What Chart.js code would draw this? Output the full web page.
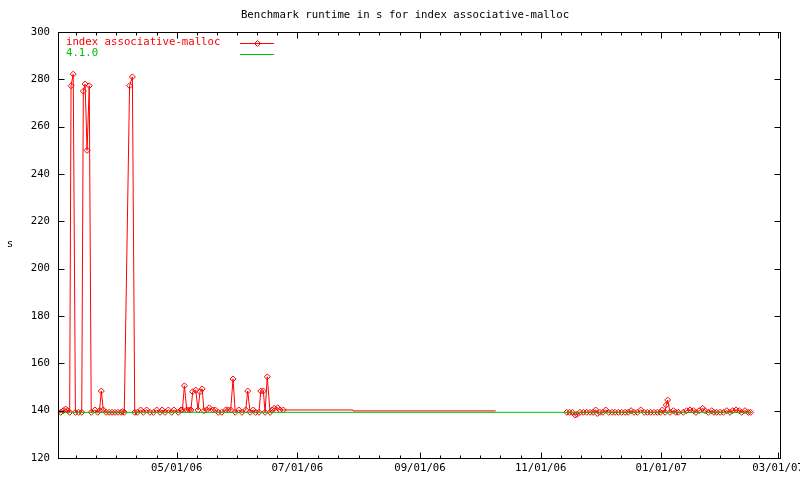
<!DOCTYPE html>
<html>
<head>
<meta charset="utf-8">
<title>Benchmark runtime in s for index associative-malloc</title>
<script src="https://cdn.jsdelivr.net/npm/chart.js@4.4.1/dist/chart.umd.min.js"></script>
<style>
  html, body { margin: 0; padding: 0; background: #fff; }
  #wrap { width: 800px; height: 480px; }
</style>
</head>
<body>
<div id="wrap"><canvas id="mychart" width="800" height="480"></canvas></div>
<script>
// x values are days counted from 03/01/06
const tickDays=[0,61,122,184,245,306,365];
const tickLabels=['03/01/06','05/01/06','07/01/06','09/01/06','11/01/06','01/01/07','03/01/07'];
const yTicks=[120,140,160,180,200,220,240,260,280,300];

const chartTitle='Benchmark runtime in s for index associative-malloc';
const seriesNames=['index associative-malloc','4.1.0'];

// index associative-malloc, null marks the hole in the runs
const mallocDays=[2.4,3.7,4.9,5.9,6.9,7.6,8.7,9.8,11.4,13.0,
  13.8,14.7,15.7,16.8,17.8,19.7,21.1,22.0,22.9,23.9,
  25.3,26.8,28.3,29.8,31.3,32.9,33.6,34.5,37.2,38.6,
  39.8,41.1,42.8,44.1,45.8,47.5,49.2,50.9,52.6,53.6,
  55.1,56.8,58.5,59.6,61.8,63.2,63.9,64.9,66.1,67.4,
  68.2,69.1,70.6,71.8,72.8,73.9,74.8,76.2,77.5,79.2,
  80.5,82.0,83.8,85.8,87.1,88.3,89.5,90.6,92.4,94.0,
  95.9,96.9,98.1,99.7,100.9,102.6,103.5,104.8,105.7,106.8,
  108.2,109.3,110.3,112.1,113.2,114.9,
  240,
  258.2,259.6,261.1,262.4,263.4,264.9,266.6,268.3,270.0,271.5,
  272.8,273.6,275.0,276.5,277.9,279.4,281.1,282.6,284.3,286.0,
  287.7,289.2,290.7,292.2,293.9,295.6,297.3,299.0,300.6,302.3,
  304.0,305.5,306.5,307.9,308.5,309.2,310.4,312.1,313.4,314.6,
  317.1,318.8,320.5,322.2,323.5,325.2,326.9,328.1,329.8,331.5,
  332.6,334.0,335.7,337.4,339.1,340.7,342.1,343.8,345.4,346.6,
  348.3,350.0,351.1];
const mallocRuntime=[139.3,140.0,140.7,140.0,139.3,277.3,282.2,139.3,139.3,139.3,
  275.0,278.0,250.0,277.3,139.3,140.3,139.3,140.0,148.3,140.3,
  139.3,139.3,139.3,139.3,139.3,139.3,139.6,139.3,277.3,281.0,
  139.3,139.3,140.3,139.3,140.3,139.3,139.3,140.3,139.3,140.3,
  139.3,140.3,139.3,140.3,139.3,140.3,140.3,150.5,140.3,140.3,
  140.3,148.0,148.7,140.3,148.0,149.2,140.0,140.3,141.2,140.3,
  140.3,139.3,139.3,140.3,140.3,140.3,153.4,139.3,140.3,139.3,
  140.3,148.3,139.3,140.3,139.3,139.3,148.3,148.3,139.3,154.3,
  139.3,140.3,141.0,141.2,140.3,140.3,
  null,
  139.3,139.3,139.3,138.2,138.4,139.3,139.3,139.3,139.3,139.3,
  140.3,138.8,139.3,139.3,140.3,139.3,139.3,139.3,139.3,139.3,
  139.3,139.3,140.0,139.3,139.3,140.3,139.3,139.3,139.3,139.3,
  139.3,139.3,140.3,139.3,142.4,144.5,139.3,140.0,139.3,139.3,
  139.3,140.0,140.3,140.0,139.3,140.0,141.0,140.0,139.3,140.0,
  139.3,139.3,139.3,139.3,140.0,139.3,140.0,140.3,140.0,139.3,
  140.0,139.3,139.3];
// stretch of the same series drawn without point marks
const flatDays=[114.9,150.1,150.2,222.3];
const flatRuntime=[140.3,140.3,139.9,139.9];
// 4.1.0 reference
const baseDays=[1,351];
const baseRuntime=[139.3,139.3];

const RED='#ff0000', GREEN='#00c000';
const FONT="'DejaVu Sans Mono', 'Liberation Mono', monospace";

const toXY=(xs,ys)=>xs.map((x,i)=>({x:x,y:ys[i]}));

Chart.defaults.font.family=FONT;
Chart.defaults.font.size=10.7;
Chart.defaults.color='#000';

// gnuplot style frame, inward ticks, title, legend
const gnuplotFrame={
  id:'gnuplotFrame',
  afterDatasetsDraw(chart){
    const {ctx,chartArea:a,scales:{x,y}}=chart;
    const L=Math.round(a.left)+0.5, R=Math.round(a.right)+0.5;
    const T=Math.round(a.top)+0.5, B=Math.round(a.bottom)+0.5;
    ctx.save();
    ctx.strokeStyle='#000';
    ctx.lineWidth=1;
    ctx.beginPath();
    yTicks.forEach(v=>{
      const py=Math.round(y.getPixelForValue(v))+0.5;
      ctx.moveTo(L,py); ctx.lineTo(L+6,py);
      ctx.moveTo(R,py); ctx.lineTo(R-6,py);
    });
    const mark=(d,len)=>{
      if(d<x.min||d>x.max) return;
      const px=Math.round(x.getPixelForValue(d))+0.5;
      ctx.moveTo(px,B); ctx.lineTo(px,B-len);
      ctx.moveTo(px,T); ctx.lineTo(px,T+len);
    };
    for(let i=0;i<tickDays.length;i++){
      mark(tickDays[i],6);
      if(i<tickDays.length-1){
        const step=(tickDays[i+1]-tickDays[i])/6;
        for(let k=1;k<6;k++) mark(tickDays[i]+k*step,3);
      }
    }
    ctx.stroke();
    ctx.strokeRect(L,T,R-L,B-T);

    ctx.font='10.7px '+FONT;
    ctx.textBaseline='middle';
    ctx.fillStyle='#000';
    ctx.textAlign='center';
    ctx.fillText(chartTitle,405,15);
    ctx.fillText('s',10,244);

    // legend: text on the left, line sample on the right
    ctx.textAlign='left';
    const lx=a.left+8, sx0=a.left+182, sx1=a.left+216;
    const legendRow=(txt,col,ly,withPoint)=>{
      const yy=Math.round(ly)+0.5;
      ctx.fillStyle=col;
      ctx.fillText(txt,lx,ly);
      ctx.beginPath();
      ctx.moveTo(sx0,yy);
      ctx.lineTo(sx1,yy);
      ctx.lineWidth=1;
      ctx.strokeStyle=col;
      ctx.stroke();
      if(withPoint){
        const cx=Math.round((sx0+sx1)/2)+0.5;
        ctx.beginPath();
        ctx.moveTo(cx-3,yy); ctx.lineTo(cx,yy-3); ctx.lineTo(cx+3,yy); ctx.lineTo(cx,yy+3);
        ctx.closePath();
        ctx.strokeStyle=col;
        ctx.stroke();
      }
    };
    legendRow(seriesNames[0],RED,a.top+10.5,true);
    legendRow(seriesNames[1],GREEN,a.top+21.5,false);
    ctx.restore();
  }
};

const ctx=document.getElementById('mychart').getContext('2d');
let mychart=new Chart(ctx,{
  type:'line',
  data:{
    datasets:[
      {
        label:seriesNames[1],
        data:toXY(baseDays,baseRuntime),
        borderColor:GREEN,
        borderWidth:1,
        pointRadius:0,
        order:0
      },
      {
        label:seriesNames[0],
        data:toXY(mallocDays,mallocRuntime),
        borderColor:RED,
        backgroundColor:'rgba(255,255,255,0)',
        borderWidth:1,
        pointStyle:'rectRot',
        pointRadius:3,
        pointBorderWidth:1,
        pointBorderColor:RED,
        pointBackgroundColor:'rgba(255,255,255,0)',
        spanGaps:false,
        order:1
      },
      {
        label:seriesNames[0]+' ',
        data:toXY(flatDays,flatRuntime),
        borderColor:RED,
        borderWidth:1,
        pointRadius:0,
        order:2
      }
    ]
  },
  options:{
    responsive:false,
    animation:false,
    layout:{padding:{top:32,right:20,left:0,bottom:0}},
    plugins:{
      legend:{display:false},
      title:{display:false},
      tooltip:{enabled:false}
    },
    elements:{line:{tension:0}},
    scales:{
      x:{
        type:'linear',
        min:1,
        max:366,
        grid:{display:false,drawTicks:false},
        border:{display:false},
        afterBuildTicks:s=>{
          s.ticks=tickDays.filter(d=>d>=s.min&&d<=s.max).map(d=>({value:d}));
        },
        afterFit:s=>{ s.height=22; s.paddingLeft=0; s.paddingRight=0; },
        ticks:{
          autoSkip:false,
          maxRotation:0,
          padding:4,
          callback:v=>tickLabels[tickDays.indexOf(v)]
        }
      },
      y:{
        min:120,
        max:300,
        grid:{display:false,drawTicks:false},
        border:{display:false},
        afterBuildTicks:s=>{ s.ticks=yTicks.map(v=>({value:v})); },
        afterFit:s=>{ s.width=58; s.paddingTop=0; s.paddingBottom=0; },
        ticks:{padding:8}
      }
    }
  },
  plugins:[gnuplotFrame]
});
</script>
</body>
</html>
